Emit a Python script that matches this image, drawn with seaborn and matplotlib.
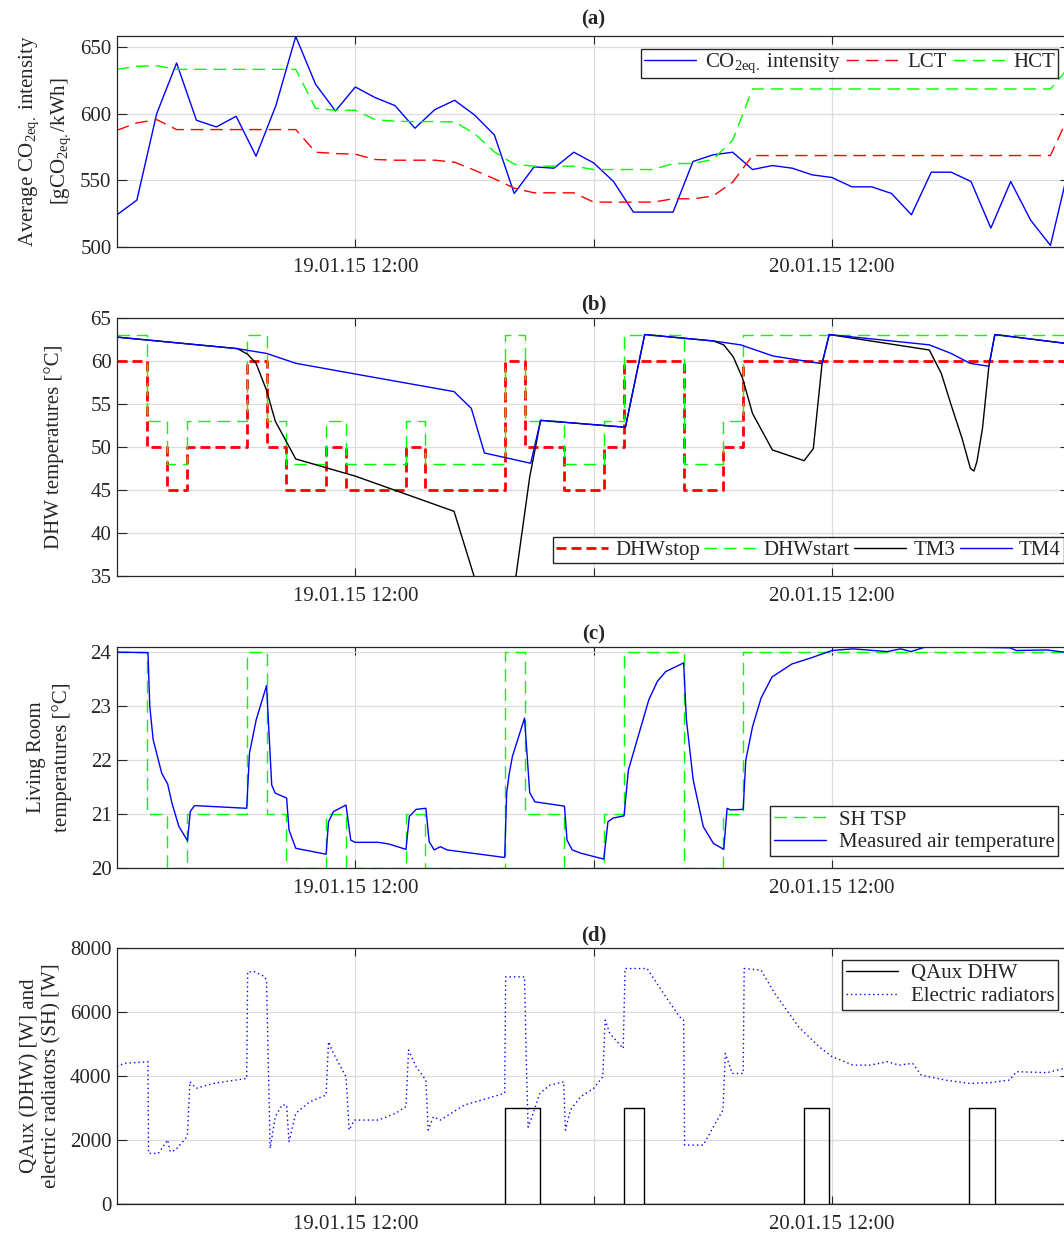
import numpy as np
import pandas as pd
import matplotlib
matplotlib.use("Agg")
import matplotlib.pyplot as plt
import seaborn as sns

# ---- data (hours after 19.01.15 00:00) ----
T0 = pd.Timestamp("2015-01-19 00:00")

hours_a = list(range(49))
co2_intensity = [524, 535, 600, 638, 595, 590, 598, 568, 606, 658, 622, 602, 620,
                 612, 606, 589, 603, 610, 599, 584, 540, 560, 559, 571, 563, 549,
                 526, 526, 526, 564, 569, 571, 558, 561, 559, 554, 552, 545, 545,
                 540, 524, 556, 556, 549, 514, 549, 520, 501, 564]
lct = [587.5, 593, 595.5, 588, 588, 588, 588, 588, 588, 588, 571, 570, 569.5,
       565.5, 565, 565, 565, 563.5, 557.5, 551, 544, 540.5, 540.5, 540.5, 533.5,
       533.5, 533.5, 533.5, 536, 536, 538, 548.5, 568.5, 568.5, 568.5, 568.5,
       568.5, 568.5, 568.5, 568.5, 568.5, 568.5, 568.5, 568.5, 568.5, 568.5,
       568.5, 568.5, 601]
hct = [633.25, 635.5, 636, 633.25, 633.25, 633.25, 633.25, 633.25, 633.25,
       633.25, 604, 602.5, 602.5, 595.5, 594.25, 594, 594, 593.75, 585, 571.25,
       562, 560.5, 560.5, 560.5, 558, 558, 558, 558, 562.5, 562.5, 565.5, 580,
       618.5, 618.5, 618.5, 618.5, 618.5, 618.5, 618.5, 618.5, 618.5, 618.5,
       618.5, 618.5, 618.5, 618.5, 618.5, 618.5, 636]

step_hours = [0, 1.53, 2.53, 3.53, 6.53, 7.53, 8.53, 10.53, 11.53, 14.53, 15.53,
              19.53, 20.53, 22.53, 24.53, 25.53, 28.53, 30.53, 31.53, 48]
dhw_stop = [60, 50, 45, 50, 60, 50, 45, 50, 45, 50, 45, 60, 50, 45, 50, 60, 45, 50, 60, 60]
dhw_start = [63, 53, 48, 53, 63, 53, 48, 53, 48, 53, 48, 63, 53, 48, 53, 63, 48, 53, 63, 63]
sh_tsp = [24, 21, 20, 21, 24, 21, 20, 21, 20, 21, 20, 24, 21, 20, 21, 24, 20, 21, 24, 24]

tm3_hours = [0, 6.06, 6.58, 7.0, 7.53, 7.97, 9.0, 12.0, 16.97, 17.97, 18.6, 19.5,
             20.09, 20.78, 21.33, 25.6, 26.57, 30.03, 30.55, 31.03, 31.5, 32.0,
             33.0, 34.6, 35.06, 35.5, 35.86, 40.9, 41.5, 42.0, 42.55, 42.97, 43.15,
             43.3, 43.58, 43.9, 44.2, 47.66, 48]
tm3 = [62.8, 61.46, 60.8, 59.75, 56.6, 53.0, 48.6, 46.6, 42.5, 35.0, 30.0, 29.0,
       35.0, 46.5, 53.1, 52.3, 63.1, 62.35, 61.9, 60.5, 58.0, 53.9, 49.65, 48.4,
       49.8, 59.7, 63.1, 61.3, 58.6, 54.9, 51.0, 47.5, 47.2, 48.3, 52.2, 59.4,
       63.1, 62.1, 62.0]
tm4_hours = [0, 6.06, 7.53, 9.0, 12.0, 16.97, 17.84, 18.5, 20.83, 21.33, 25.6,
             26.57, 30.03, 31.4, 33.03, 35.5, 35.86, 40.9, 42.0, 42.95, 43.9, 44.2,
             47.66, 48]
tm4 = [62.8, 61.46, 60.9, 59.75, 58.5, 56.45, 54.5, 49.3, 48.1, 53.1, 52.3, 63.1,
       62.35, 61.9, 60.6, 59.7, 63.1, 61.9, 60.9, 59.75, 59.4, 63.1, 62.1, 62.0]

air_hours = [0, 1.56, 1.65, 1.82, 2.25, 2.55, 2.77, 3.12, 3.55, 3.69, 3.9, 6.53,
             6.67, 7.01, 7.53, 7.79, 7.97, 8.54, 8.66, 9.0, 10.53, 10.65, 10.9,
             11.53, 11.77, 12.0, 13.16, 13.68, 14.55, 14.72, 15.06, 15.55, 15.72,
             15.97, 16.28, 16.62, 19.52, 19.62, 19.74, 19.91, 20.52, 20.78, 21.04,
             22.53, 22.66, 22.92, 23.35, 24.51, 24.72, 24.98, 25.53, 25.75, 26.09,
             26.78, 27.21, 27.63, 28.53, 28.67, 29.01, 29.52, 30.03, 30.55, 30.72,
             30.89, 31.53, 31.66, 32.0, 32.43, 32.98, 33.98, 35.0, 36.0, 37.06,
             38.78, 39.46, 39.98, 40.66, 43.06, 44.95, 45.29, 46.84, 47.66, 48]
air_temp = [24.0, 23.99, 23.0, 22.38, 21.76, 21.56, 21.2, 20.77, 20.51, 21.05,
            21.16, 21.11, 22.13, 22.75, 23.38, 21.54, 21.39, 21.3, 20.71, 20.37,
            20.26, 20.86, 21.05, 21.17, 20.52, 20.48, 20.48, 20.45, 20.35, 20.96,
            21.09, 21.11, 20.49, 20.34, 20.4, 20.34, 20.2, 21.39, 21.73, 22.07,
            22.78, 21.4, 21.23, 21.15, 20.52, 20.34, 20.28, 20.17, 20.86, 20.93,
            20.97, 21.82, 22.25, 23.12, 23.46, 23.64, 23.8, 22.75, 21.64, 20.77,
            20.46, 20.35, 21.11, 21.08, 21.09, 22.0, 22.62, 23.15, 23.54, 23.78,
            23.9, 24.03, 24.06, 24.01, 24.06, 24.01, 24.09, 24.09, 24.08, 24.03,
            24.04, 24.0, 23.98]

qaux_hours = [0, 19.53, 21.29, 25.53, 26.54, 34.6, 35.86, 42.88, 44.23, 48]
qaux_dhw = [0, 3000, 0, 3000, 0, 3000, 0, 3000, 0, 0]

rad_hours = [0, 0.35, 1.56, 1.59, 2.08, 2.55, 2.68, 2.94, 3.46, 3.55, 3.67, 3.98,
             4.85, 6.53, 6.58, 6.93, 7.45, 7.53, 7.71, 7.97, 8.31, 8.54, 8.66, 9.0,
             9.7, 10.53, 10.65, 10.9, 11.53, 11.69, 11.95, 13.16, 14.03, 14.55,
             14.68, 15.06, 15.55, 15.67, 15.93, 16.28, 17.49, 19.52, 19.57, 20.52,
             20.6, 20.7, 20.85, 21.29, 21.8, 22.49, 22.58, 22.83, 23.35, 24.0,
             24.46, 24.58, 24.81, 25.49, 25.58, 26.69, 27.63, 28.32, 28.53, 28.58,
             29.52, 30.03, 30.51, 30.63, 30.98, 31.53, 31.58, 32.43, 33.12, 34.32,
             35.35, 36.0, 37.06, 37.92, 38.78, 39.38, 40.06, 40.49, 41.69, 42.89,
             43.92, 44.95, 45.29, 46.84, 47.66, 48]
radiators = [4285, 4390, 4440, 1580, 1580, 2000, 1630, 1685, 2050, 2200, 3815,
             3610, 3765, 3920, 7250, 7250, 7090, 6940, 1735, 2725, 3090, 3090,
             1945, 2830, 3190, 3400, 5065, 4700, 3970, 2310, 2620, 2620, 2830,
             3040, 4805, 4285, 3870, 2310, 2725, 2620, 3090, 3455, 7090, 7090,
             4700, 2400, 2650, 3450, 3710, 3815, 2310, 2935, 3350, 3610, 3970,
             5740, 5325, 4855, 7350, 7350, 6470, 5845, 5740, 1840, 1840, 2410,
             2930, 4700, 4075, 4075, 7350, 7300, 6570, 5530, 4910, 4600, 4335,
             4335, 4440, 4335, 4390, 4025, 3870, 3765, 3785, 3870, 4130, 4100,
             4230, 4260]


def to_time(h):
    return T0 + pd.to_timedelta(np.asarray(h, dtype=float), unit="h")


sns.set_theme(style="ticks")
plt.rcParams["font.family"] = ["Liberation Serif", "DejaVu Serif"]
plt.rcParams["mathtext.fontset"] = "custom"
plt.rcParams["mathtext.rm"] = "Liberation Serif"
plt.rcParams["mathtext.it"] = "Liberation Serif:italic"
plt.rcParams["mathtext.bf"] = "Liberation Serif:bold"
plt.rcParams["font.size"] = 15
plt.rcParams["axes.unicode_minus"] = False

BLUE, RED, GREEN, DARK = "#0000ff", "#ff0000", "#00ff00", "#262626"
FS = 15

fig = plt.figure(figsize=(10.64, 12.33), dpi=100)
left, width = 117 / 1064, 953.3 / 1064
ax_a = fig.add_axes([left, 0.7999, width, 0.1709])
ax_b = fig.add_axes([left, 0.5331, width, 0.2088])
ax_c = fig.add_axes([left, 0.2958, width, 0.1797])
ax_d = fig.add_axes([left, 0.0235, width, 0.2079])

legend_kw = dict(fontsize=FS, handlelength=2.5, fancybox=False, framealpha=1,
                 edgecolor=DARK)


def line(ax, h, v, **kw):
    sns.lineplot(x=to_time(h), y=v, ax=ax, estimator=None, sort=False, **kw)


# (a)
line(ax_a, hours_a, co2_intensity, color=BLUE, lw=1.0)
line(ax_a, hours_a, lct, color=RED, lw=1.0, linestyle=(0, (9, 5)))
line(ax_a, hours_a, hct, color=GREEN, lw=1.0, linestyle=(0, (9, 5)))
ax_a.set_ylim(500, 658.3)
ax_a.set_yticks([500, 550, 600, 650])
ax_a.set_ylabel("Average CO$_{\\mathrm{2eq.}}$ intensity\n[gCO$_{\\mathrm{2eq.}}$/kWh]",
                fontsize=FS, linespacing=1.55)
ax_a.yaxis.set_label_coords(-0.046, 0.5)
ax_a.legend(ax_a.get_lines()[:3],
            ["CO$_{\\mathrm{2eq.}}$ intensity", "LCT", "HCT"],
            loc="upper right", ncol=3, handletextpad=0.4, columnspacing=0.3,
            borderaxespad=0.6, borderpad=0.15, **legend_kw)
ax_a.set_title("(a)", fontsize=FS, fontweight="bold", pad=8)

# (b)
line(ax_b, step_hours, dhw_stop, color=RED, lw=2.0, linestyle=(0, (3.6, 1.8)),
     drawstyle="steps-post")
line(ax_b, step_hours, dhw_start, color=GREEN, lw=1.0, linestyle=(0, (9, 5)),
     drawstyle="steps-post")
line(ax_b, tm3_hours, tm3, color="black", lw=1.0)
line(ax_b, tm4_hours, tm4, color=BLUE, lw=1.0)
ax_b.set_ylim(35, 65)
ax_b.set_yticks(range(35, 66, 5))
ax_b.set_ylabel("DHW temperatures [°C]", fontsize=FS)
ax_b.yaxis.set_label_coords(-0.0555, 0.5)
ax_b.legend(ax_b.get_lines()[:4], ["DHWstop", "DHWstart", "TM3", "TM4"],
            loc="lower left", bbox_to_anchor=(0.4574, 0.0493), ncol=4,
            handletextpad=0.35, columnspacing=0.2, borderaxespad=0,
            borderpad=0.15, **legend_kw)
ax_b.set_title("(b)", fontsize=FS, fontweight="bold", pad=6)

# (c)
line(ax_c, step_hours, sh_tsp, color=GREEN, lw=1.0, linestyle=(0, (9, 5)),
     drawstyle="steps-post")
line(ax_c, air_hours, air_temp, color=BLUE, lw=1.0)
ax_c.set_ylim(20, 24.1)
ax_c.set_yticks([20, 21, 22, 23, 24])
ax_c.set_ylabel("Living Room\ntemperatures [°C]", fontsize=FS, linespacing=1.45)
ax_c.yaxis.set_label_coords(-0.047, 0.5)
ax_c.legend(ax_c.get_lines()[:2], ["SH TSP", "Measured air temperature"],
            loc="lower right", handletextpad=0.6, borderaxespad=0.57,
            borderpad=0.2, labelspacing=0.15, **legend_kw)
ax_c.set_title("(c)", fontsize=FS, fontweight="bold", pad=5)

# (d)
line(ax_d, qaux_hours, qaux_dhw, color="black", lw=1.0, drawstyle="steps-post")
line(ax_d, rad_hours, radiators, color=BLUE, lw=1.0, linestyle=(0, (1, 2.2)))
ax_d.set_ylim(0, 8000)
ax_d.set_yticks(range(0, 8001, 2000))
ax_d.set_ylabel("QAux (DHW) [W] and\nelectric radiators (SH) [W]", fontsize=FS)
ax_d.yaxis.set_label_coords(-0.0585, 0.5)
ax_d.legend(ax_d.get_lines()[:2], ["QAux DHW", "Electric radiators"],
            loc="upper right", handletextpad=0.6, borderaxespad=0.57,
            borderpad=0.2, labelspacing=0.15, **legend_kw)
ax_d.set_title("(d)", fontsize=FS, fontweight="bold", pad=5)

xticks = to_time([12, 24, 36])
xlabels = [t.strftime("%d.%m.%y %H:%M") if t.hour == 12 else "" for t in xticks]
for ax in (ax_a, ax_b, ax_c, ax_d):
    ax.set_xlim(to_time([0])[0], to_time([48])[0])
    ax.set_xticks(xticks)
    ax.set_xticklabels(xlabels)
    ax.set_xlabel("")
    ax.grid(True, color="#dcdcdc", lw=0.9)
    ax.set_axisbelow(True)
    ax.tick_params(axis="both", direction="in", top=True, right=True,
                   labelsize=FS, colors=DARK, width=0.8)
    ax.tick_params(axis="x", length=5.5, pad=8)
    ax.tick_params(axis="y", length=7, pad=4)
    for s in ax.spines.values():
        s.set_color(DARK)
        s.set_linewidth(0.9)

fig.savefig("out.png", dpi=100)
